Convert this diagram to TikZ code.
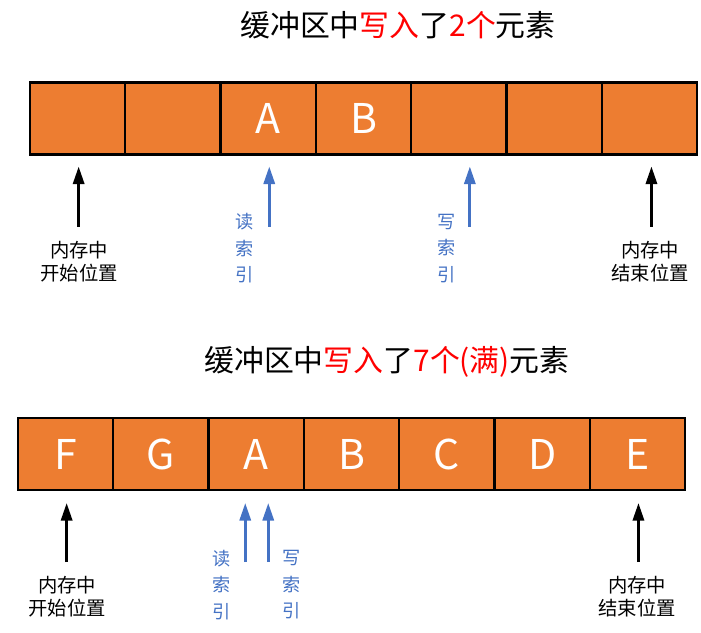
\documentclass[tikz,border=0pt]{standalone}
\usepackage{fontspec}
\setmainfont{Noto Sans CJK SC}
\usetikzlibrary{calc,arrows.meta}

\definecolor{cellorange}{HTML}{ED7D31}
\definecolor{idxblue}{HTML}{4472C4}
\definecolor{titlered}{HTML}{FF0000}

\tikzset{
  cell/.style={draw=black, line width=2pt, fill=cellorange, minimum width=2.859cm,
    minimum height=2.16cm, inner sep=0pt, outer sep=0pt, text=white,
    font=\fontsize{35}{35}\selectfont},
  memptr/.style={-{Triangle[length=15pt,width=9.5pt]}, line width=2.4pt, black},
  idxptr/.style={memptr, idxblue},
  memlbl/.style={align=center, font=\fontsize{16.5}{19.6}\selectfont},
  idxlbl/.style={align=center, text=idxblue, font=\fontsize{15.5}{22.6}\selectfont},
  heading/.style={font=\fontsize{25.5}{28}\selectfont}
}

\begin{document}
\begin{tikzpicture}[x=0.03cm, y=0.03cm]
    \useasboundingbox (0,0) rectangle (701,632);
    % first buffer: two elements written
    \node[heading] (head1) at (398,607)
      {缓冲区中\textcolor{titlered}{写入}了\textcolor{titlered}{2个}元素};
    \foreach \i/\t in {1/,2/,3/A,4/B,5/,6/,7/}
      \node[cell] (u\i) at ({30+95.3*\i-47.65},513.5) {\t};
    \coordinate (uStartTip) at ($(u1.south)+(1,-12)$);
    \coordinate (uStartEnd) at ($(u1.south)+(1,-72)$);
    \coordinate (uReadTip) at ($(u3.south)+(1,-12)$);
    \coordinate (uReadEnd) at ($(u3.south)+(1,-72)$);
    \coordinate (uWriteTip) at ($(u5.south)+(11,-12)$);
    \coordinate (uWriteEnd) at ($(u5.south)+(11,-72)$);
    \coordinate (uStopTip) at ($(u7.south)+(2,-12)$);
    \coordinate (uStopEnd) at ($(u7.south)+(2,-72)$);
    \draw[memptr] (uStartEnd) -- (uStartTip);
    \draw[idxptr] (uReadEnd) -- (uReadTip);
    \draw[idxptr] (uWriteEnd) -- (uWriteTip);
    \draw[memptr] (uStopEnd) -- (uStopTip);
    \node[memlbl] (uStartLbl) at (79,370.5) {内存中\\开始位置};
    \node[idxlbl] (uReadLbl) at (245,383.5) {读\\索\\引};
    \node[idxlbl] (uWriteLbl) at (447,383.5) {写\\索\\引};
    \node[memlbl] (uStopLbl) at (650,370.5) {内存中\\结束位置};

    % second buffer: full
    \node[heading] (head2) at (387,270)
      {缓冲区中\textcolor{titlered}{写入}了\textcolor{titlered}{7个(满)}元素};
    \foreach \i/\t in {1/F,2/G,3/A,4/B,5/C,6/D,7/E}
      \node[cell] (v\i) at ({18+95.3*\i-47.65},178) {\t};
    \coordinate (vStartTip) at ($(v1.south)+(1,-13)$);
    \coordinate (vStartEnd) at ($(v1.south)+(1,-72)$);
    \coordinate (vReadTip) at ($(v3.south)+(-11,-13)$);
    \coordinate (vReadEnd) at ($(v3.south)+(-11,-72)$);
    \coordinate (vWriteTip) at ($(v3.south)+(12,-13)$);
    \coordinate (vWriteEnd) at ($(v3.south)+(12,-72)$);
    \coordinate (vStopTip) at ($(v7.south)+(1,-13)$);
    \coordinate (vStopEnd) at ($(v7.south)+(1,-72)$);
    \draw[memptr] (vStartEnd) -- (vStartTip);
    \draw[idxptr] (vReadEnd) -- (vReadTip);
    \draw[idxptr] (vWriteEnd) -- (vWriteTip);
    \draw[memptr] (vStopEnd) -- (vStopTip);
    \node[memlbl] (vStartLbl) at (67,35.5) {内存中\\开始位置};
    \node[idxlbl] (vReadLbl) at (222,47) {读\\索\\引};
    \node[idxlbl] (vWriteLbl) at (292,47) {写\\索\\引};
    \node[memlbl] (vStopLbl) at (637,35.5) {内存中\\结束位置};
\end{tikzpicture}
\end{document}
